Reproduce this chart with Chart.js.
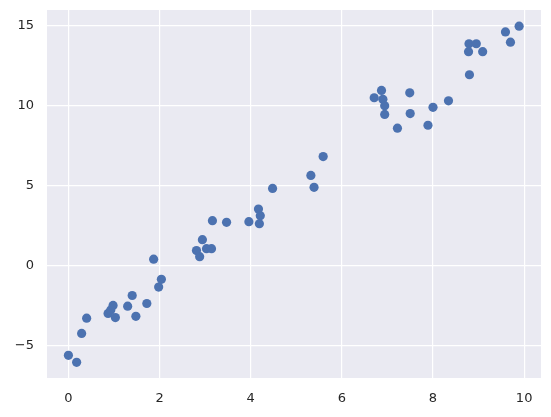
<!DOCTYPE html>
<html>
<head>
<meta charset="utf-8">
<script src="https://cdn.jsdelivr.net/npm/chart.js@4/dist/chart.umd.min.js"></script>
<style>
  html, body { margin: 0; padding: 0; background: #fff; }
  #wrap { width: 551px; height: 417px; }
</style>
</head>
<body>
<div id="wrap"><canvas id="scatter-chart"></canvas></div>
<script>
// Giá trị
const xValues = [
    0.00, 0.18, 0.29, 0.40, 0.87, 0.93, 0.98, 1.03, 1.30, 1.40, 1.48, 1.72,
    1.87, 1.98, 2.04, 2.81, 2.88, 2.94, 3.03, 3.14, 3.16, 3.47, 3.96, 4.17,
    4.21, 4.19, 4.48, 5.32, 5.39, 5.59, 6.71, 6.87, 6.90, 6.94, 6.94, 7.22,
    7.49, 7.50, 7.89, 8.00, 8.34, 8.79, 8.95, 8.78, 9.09, 8.80, 9.59, 9.70, 9.89
];
const yValues = [
    -5.63, -6.07, -4.26, -3.31, -3.01, -2.80, -2.51, -3.27, -2.56, -1.89, -3.19, -2.39,
    0.38, -1.36, -0.88, 0.92, 0.54, 1.60, 1.04, 1.04, 2.79, 2.69, 2.73, 3.52,
    3.10, 2.60, 4.81, 5.62, 4.88, 6.80, 10.48, 10.94, 10.38, 9.98, 9.44, 8.58,
    10.79, 9.49, 8.76, 9.88, 10.29, 13.86, 13.86, 13.36, 13.36, 11.92, 14.60, 13.96, 14.96
];
const xTicks = [0, 2, 4, 6, 8, 10];
const yTicks = [-5, 0, 5, 10, 15];

const points = xValues.map((x, i) => ({ x: x, y: yValues[i] }));

// Nền xám của vùng vẽ
const plotBackground = {
    id: 'plotBackground',
    beforeDraw(chart) {
        const { ctx, chartArea: a } = chart;
        ctx.save();
        ctx.fillStyle = '#eaeaf2';
        ctx.fillRect(a.left, a.top, a.right - a.left, a.bottom - a.top);
        ctx.restore();
    }
};

const minus = v => String(v).replace('-', '\u2212');

const config = {
    type: 'scatter',
    data: {
        datasets: [{
            data: points,
            backgroundColor: '#4c72b0',
            borderColor: '#4c72b0',
            borderWidth: 0,
            pointRadius: 4.6,
            pointHoverRadius: 4.6
        }]
    },
    options: {
        responsive: true,
        maintainAspectRatio: false,
        animation: false,
        events: [],
        layout: { padding: { top: 10, right: 10, left: 0, bottom: 0 } },
        plugins: {
            legend: { display: false },
            tooltip: { enabled: false }
        },
        scales: {
            x: {
                type: 'linear',
                min: -0.47,
                max: 10.37,
                afterBuildTicks: s => { s.ticks = xTicks.map(v => ({ value: v })); },
                afterFit: s => { s.height = 39; s.paddingLeft = 0; s.paddingRight = 0; },
                border: { display: false },
                grid: { color: '#ffffff', lineWidth: 1.2, drawTicks: false },
                ticks: {
                    padding: 13,
                    color: '#262626',
                    font: { family: 'DejaVu Sans', size: 13 },
                    maxRotation: 0,
                    callback: v => minus(v)
                }
            },
            y: {
                type: 'linear',
                min: -7.05,
                max: 15.97,
                afterBuildTicks: s => { s.ticks = yTicks.map(v => ({ value: v })); },
                afterFit: s => { s.width = 47; s.paddingTop = 0; s.paddingBottom = 0; },
                border: { display: false },
                grid: { color: '#ffffff', lineWidth: 1.2, drawTicks: false },
                ticks: {
                    padding: 13,
                    color: '#262626',
                    font: { family: 'DejaVu Sans', size: 13 },
                    callback: v => minus(v)
                }
            }
        }
    },
    plugins: [plotBackground]
};

const scatterChart = new Chart(document.getElementById('scatter-chart'), config);
</script>
</body>
</html>
